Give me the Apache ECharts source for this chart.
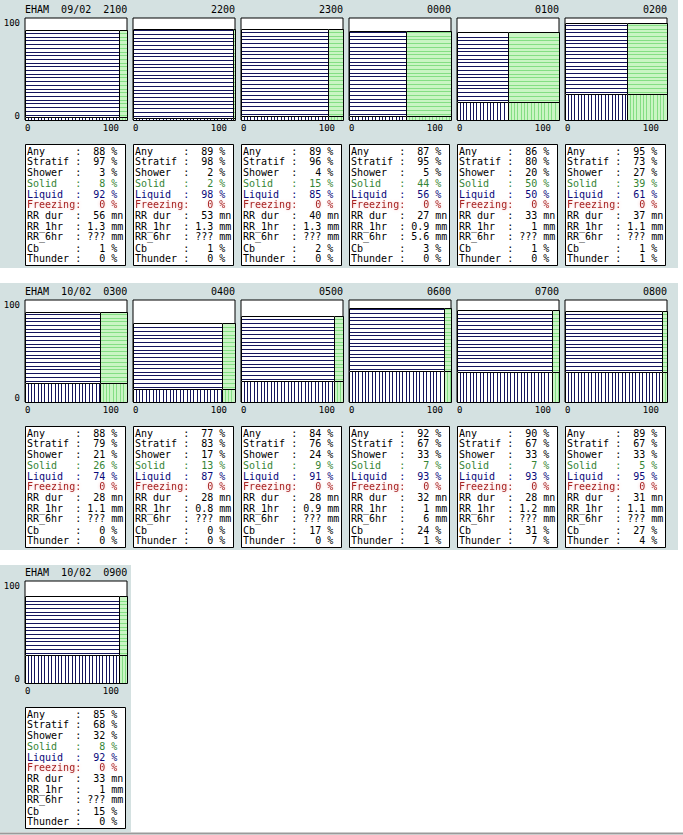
<!DOCTYPE html>
<html>
<head>
<meta charset="utf-8">
<script src="https://cdn.jsdelivr.net/npm/echarts@6/dist/echarts.min.js"></script>
<style>
html, body { margin: 0; padding: 0; background: #fff; }
#chart { width: 683px; height: 835px; }
</style>
</head>
<body>
<div id="chart"></div>
<script>
// forecast data, one entry per hour
var station = 'EHAM';
var times = ['2100', '2200', '2300', '0000', '0100', '0200', '0300', '0400', '0500', '0600', '0700', '0800', '0900'];
var dates = ['09/02', '09/02', '09/02', '10/02', '10/02', '10/02', '10/02', '10/02', '10/02', '10/02', '10/02', '10/02', '10/02'];
var anyPct = [88, 89, 89, 87, 86, 95, 88, 77, 84, 92, 90, 89, 85];
var stratif = [97, 98, 96, 95, 80, 73, 79, 83, 76, 67, 67, 67, 68];
var shower = [3, 2, 4, 5, 20, 27, 21, 17, 24, 33, 33, 33, 32];
var solid = [8, 2, 15, 44, 50, 39, 26, 13, 9, 7, 7, 5, 8];
var liquid = [92, 98, 85, 56, 50, 61, 74, 87, 91, 93, 93, 95, 92];
var freezing = [0, 0, 0, 0, 0, 0, 0, 0, 0, 0, 0, 0, 0];
var rrDur = [56, 53, 40, 27, 33, 37, 28, 28, 28, 32, 28, 31, 33];
var rr1hr = ['1.3', '1.3', '1.3', '0.9', '1', '1.1', '1.1', '0.8', '0.9', '1', '1.2', '1.1', '1'];
var rr6hr = ['???', '???', '???', '5.6', '???', '???', '???', '???', '???', '6', '???', '???', '???'];
var cb = [1, 1, 2, 3, 1, 1, 0, 0, 17, 24, 31, 27, 15];
var thunder = [0, 0, 0, 0, 0, 1, 0, 0, 0, 1, 7, 4, 0];
var axisRange = [0, 100];

var MONO = '"DejaVu Sans Mono", "Liberation Mono", monospace';
var BG = '#d4e1e1';
var NAVY = '#14145c';
var GREEN_FILL = '#caf5c4';
var GREEN_LINE = '#84de84';

var perRow = 6;
var rowY = [0, 282, 563];
var bgTop = [0, 283, 565];
var bgBottom = [268, 550, 832];
var lineY = [7, 17.5, 28, 39.5, 50, 60.5, 71.5, 82, 92.5, 104, 114.5];

var chartDom = document.getElementById('chart');
var myChart = echarts.init(chartDom, null, { renderer: 'svg' });

function panelLeft(k) { return 25 + (k % perRow) * 108; }
function panelTop(k) { return rowY[Math.floor(k / perRow)]; }

// one region = [x0, x1, y0, y1, kind]; kind 0 liquid strat, 1 solid strat, 2 liquid shower, 3 solid shower
function regions(k) {
    var top = anyPct[k];
    var sh = shower[k] * anyPct[k] / 100;
    var l = liquid[k];
    return [
        [0, l, sh, top, 0],
        [l, 100, sh, top, 1],
        [0, l, 0, sh, 2],
        [l, 100, 0, sh, 3]
    ];
}

function renderRegion(params, api) {
    var kind = api.value(4);
    var p0 = api.coord([api.value(0), api.value(2)]);
    var p1 = api.coord([api.value(1), api.value(3)]);
    var x = Math.round(p0[0]), y = Math.round(p1[1]);
    var w = Math.round(p1[0]) - x, h = Math.round(p0[1]) - y;
    if (w <= 0 || h <= 0) return null;
    var green = kind === 1 || kind === 3;
    var lineColor = green ? GREEN_LINE : NAVY;
    var children = [{
        type: 'rect',
        shape: { x: x, y: y, width: w, height: h },
        style: { fill: green ? GREEN_FILL : '#fff' }
    }];
    var s;
    if (kind < 2) {
        for (s = y + h - 2.5; s > y + 1; s -= 3.7) {
            var yy = Math.round(s) + 0.5;
            children.push({ type: 'line', shape: { x1: x, y1: yy, x2: x + w, y2: yy }, style: { stroke: lineColor, lineWidth: 1 } });
        }
    } else {
        for (s = x + 2.5; s < x + w - 1; s += 3.4) {
            var xx = Math.round(s) + 0.5;
            children.push({ type: 'line', shape: { x1: xx, y1: y, x2: xx, y2: y + h }, style: { stroke: lineColor, lineWidth: 1 } });
        }
    }
    children.push({
        type: 'rect',
        shape: { x: x + 0.5, y: y + 0.5, width: w, height: h },
        style: { fill: null, stroke: '#000', lineWidth: 1 }
    });
    return { type: 'group', children: children };
}

function tableRows(k) {
    function row(label, val, unit) {
        var lab = label.length >= 8 ? label : (label + '        ').slice(0, 8);
        var v = ('    ' + val).slice(-4);
        return lab + ':' + v + ' ' + unit;
    }
    return [
        [row('Any', anyPct[k], '%'), '#000'],
        [row('Stratif', stratif[k], '%'), '#000'],
        [row('Shower', shower[k], '%'), '#000'],
        [row('Solid', solid[k], '%'), '#348434'],
        [row('Liquid', liquid[k], '%'), '#08087a'],
        [row('Freezing', freezing[k], '%'), '#a82424'],
        [row('RR dur', rrDur[k], 'mn'), '#000'],
        [row('RR_1hr', rr1hr[k], 'mm'), '#000'],
        [row('RR_6hr', rr6hr[k], 'mm'), '#000'],
        [row('Cb', cb[k], '%'), '#000'],
        [row('Thunder', thunder[k], '%'), '#000']
    ];
}

var grids = [], xAxes = [], yAxes = [], series = [], graphics = [];

for (var r = 0; r < rowY.length; r++) {
    var count = Math.min(perRow, times.length - r * perRow);
    if (count <= 0) break;
    graphics.push({
        type: 'rect', z: -10,
        shape: { x: 0, y: bgTop[r], width: count === perRow ? 678 : 131, height: bgBottom[r] - bgTop[r] },
        style: { fill: BG }
    });
}
graphics.push({
    type: 'line', z: -10,
    shape: { x1: 0, y1: 833.5, x2: 683, y2: 833.5 },
    style: { stroke: '#9a9a9a', lineWidth: 2 }
});

times.forEach(function (t, k) {
    var left = panelLeft(k), top = panelTop(k);
    var first = k % perRow === 0;
    grids.push({
        left: left, top: top + 18, width: 102, height: 102,
        show: true, backgroundColor: '#fff', borderColor: '#000', borderWidth: 1
    });
    xAxes.push({
        gridIndex: k, type: 'value', min: axisRange[0], max: axisRange[1], interval: 100,
        axisLine: { show: false }, axisTick: { show: false }, splitLine: { show: false },
        axisLabel: {
            color: '#000', fontFamily: MONO, fontSize: 9, margin: 3,
            alignMinLabel: 'left', alignMaxLabel: 'right', padding: [0, 8, 0, 0]
        }
    });
    yAxes.push({
        gridIndex: k, type: 'value', min: axisRange[0], max: axisRange[1], interval: 100,
        axisLine: { show: false }, axisTick: { show: false }, splitLine: { show: false },
        axisLabel: {
            show: first, color: '#000', fontFamily: MONO, fontSize: 9, margin: 5,
            verticalAlignMinLabel: 'bottom', verticalAlignMaxLabel: 'top'
        }
    });
    series.push({
        type: 'custom', xAxisIndex: k, yAxisIndex: k,
        renderItem: renderRegion, clip: false, silent: true,
        data: regions(k)
    });

    graphics.push({
        type: 'text', left: first ? left : null, right: first ? null : 683 - (left + 102),
        top: top + 4,
        style: {
            text: first ? station + '  ' + dates[k] + '  ' + t : t,
            font: '10px ' + MONO, fill: '#000'
        }
    });

    var tTop = top + 144;
    graphics.push({
        type: 'rect',
        shape: { x: left + 0.5, y: tTop + 0.5, width: 100, height: 121 },
        style: { fill: '#fff', stroke: '#000', lineWidth: 1 }
    });
    tableRows(k).forEach(function (row, i) {
        var st = {
            text: row[0], x: left + 2, y: tTop + lineY[i],
            font: '10px ' + MONO, fill: row[1], verticalAlign: 'middle'
        };
        if (i === 5) {
            st.textShadowColor = 'rgba(230,100,100,0.4)';
            st.textShadowBlur = 3;
        }
        graphics.push({ type: 'text', style: st });
    });
});

var option = {
    animation: false,
    backgroundColor: '#fff',
    grid: grids,
    xAxis: xAxes,
    yAxis: yAxes,
    series: series,
    graphic: graphics
};

option && myChart.setOption(option);
</script>
</body>
</html>
